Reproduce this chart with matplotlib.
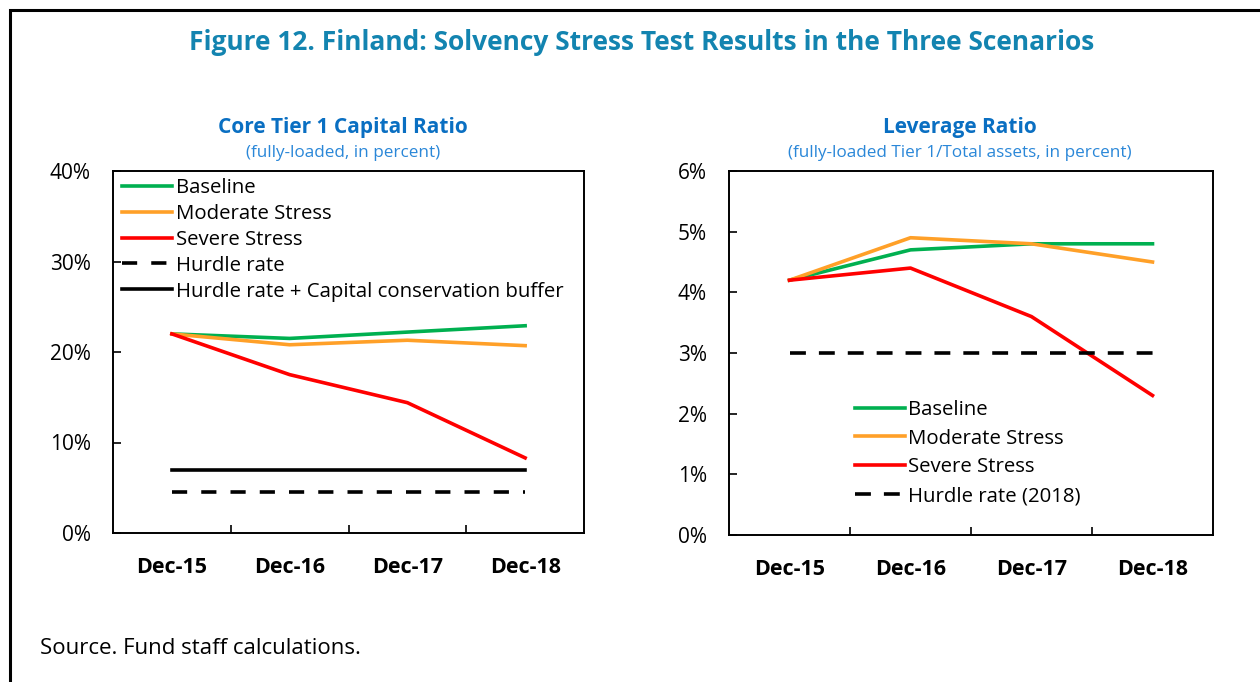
import matplotlib.pyplot as plt
from matplotlib.patches import Rectangle
from matplotlib.ticker import FixedLocator, FuncFormatter

plt.rcParams['font.family'] = ['Open Sans', 'DejaVu Sans']

# data
years = ["Dec-15", "Dec-16", "Dec-17", "Dec-18"]

ct1_baseline = [22.0, 21.5, 22.2, 22.9]
ct1_moderate = [22.0, 20.8, 21.3, 20.7]
ct1_severe = [22.0, 17.5, 14.4, 8.3]
ct1_hurdle = [4.5, 4.5, 4.5, 4.5]
ct1_hurdle_ccb = [7.0, 7.0, 7.0, 7.0]

lev_baseline = [4.2, 4.7, 4.8, 4.8]
lev_moderate = [4.2, 4.9, 4.8, 4.5]
lev_severe = [4.2, 4.4, 3.6, 2.3]
lev_hurdle = [3.0, 3.0, 3.0, 3.0]

GREEN = "#00b050"
ORANGE = "#ffa028"
RED = "#ff0000"

W, H = 1260, 682
fig = plt.figure(figsize=(W / 100, H / 100), dpi=100)

# outer frame (only top/left visible in the crop)
fig.patches.append(Rectangle((10 / W, -0.1), 1.2, 1 - 10 / H + 0.1,
                             transform=fig.transFigure, fill=False,
                             edgecolor="black", linewidth=2.2))

fig.text(642 / W, 1 - 43 / H,
         "Figure 12. Finland: Solvency Stress Test Results in the Three Scenarios",
         ha="center", va="center", fontsize=19, fontweight="bold", color="#1384b0")


def setup_axes(ax, ymax, ystep):
    x = [i + 0.5 for i in range(len(years))]
    ax.set_xlim(0, len(years))
    ax.set_ylim(0, ymax)
    ax.set_xticks(x)
    ax.set_xticklabels(years, fontweight="bold", fontsize=15.5)
    ax.tick_params(axis="x", which="major", length=0, pad=17)
    ax.xaxis.set_minor_locator(FixedLocator([1, 2, 3]))
    ax.tick_params(axis="x", which="minor", direction="in", length=6, width=1.2)
    ax.yaxis.set_major_locator(FixedLocator([i * ystep for i in range(int(ymax / ystep) + 1)]))
    ax.yaxis.set_major_formatter(FuncFormatter(lambda v, p: f"{v:.0f}%"))
    ax.tick_params(axis="y", direction="in", length=6, width=1.2, pad=16, labelsize=15)
    for s in ax.spines.values():
        s.set_linewidth(1.4)
        s.set_color("black")
    return x


# left chart
ax1 = fig.add_axes([113 / W, 1 - 533 / H, 471 / W, 362 / H])
x = setup_axes(ax1, 40, 10)
ax1.plot(x, ct1_baseline, color=GREEN, lw=2.6, label="Baseline")
ax1.plot(x, ct1_moderate, color=ORANGE, lw=2.6, label="Moderate Stress")
ax1.plot(x, ct1_severe, color=RED, lw=2.6, label="Severe Stress")
ax1.plot(x, ct1_hurdle, color="black", lw=2.6, ls=(0, (4.2, 3.9)), label="Hurdle rate")
ax1.plot(x, ct1_hurdle_ccb, color="black", lw=2.6, label="Hurdle rate + Capital conservation buffer")
ax1.legend(loc="upper left", bbox_to_anchor=(-0.006, 1.015), frameon=False, fontsize=14.7,
           handlelength=2.45, handletextpad=0.15, labelspacing=0.29, borderaxespad=0.2)
fig.text(343 / W, 1 - 127 / H, "Core Tier 1 Capital Ratio", ha="center", va="center",
         fontsize=15, fontweight="bold", color="#0a6fc2")
fig.text(343 / W, 1 - 153 / H, "(fully-loaded, in percent)", ha="center", va="center",
         fontsize=12.3, color="#2a87d8")

# right chart
ax2 = fig.add_axes([729 / W, 1 - 535 / H, 484 / W, 364 / H])
x = setup_axes(ax2, 6, 1)
ax2.plot(x, lev_baseline, color=GREEN, lw=2.6, label="Baseline")
ax2.plot(x, lev_moderate, color=ORANGE, lw=2.6, label="Moderate Stress")
ax2.plot(x, lev_severe, color=RED, lw=2.6, label="Severe Stress")
ax2.plot(x, lev_hurdle, color="black", lw=2.6, ls=(0, (4.4, 3.6)), label="Hurdle rate (2018)")
ax2.legend(loc="upper left", bbox_to_anchor=(0.244, 0.394), frameon=False, fontsize=14.7,
           handlelength=2.45, handletextpad=0.15, labelspacing=0.43, borderaxespad=0.0)
fig.text(960 / W, 1 - 127 / H, "Leverage Ratio", ha="center", va="center",
         fontsize=15, fontweight="bold", color="#0a6fc2")
fig.text(960 / W, 1 - 153 / H, "(fully-loaded Tier 1/Total assets, in percent)", ha="center",
         va="center", fontsize=12.3, color="#2a87d8")

fig.text(40 / W, 1 - 648 / H, "Source. Fund staff calculations.", ha="left", va="center",
         fontsize=16)

fig.savefig("out.png", dpi=100)
